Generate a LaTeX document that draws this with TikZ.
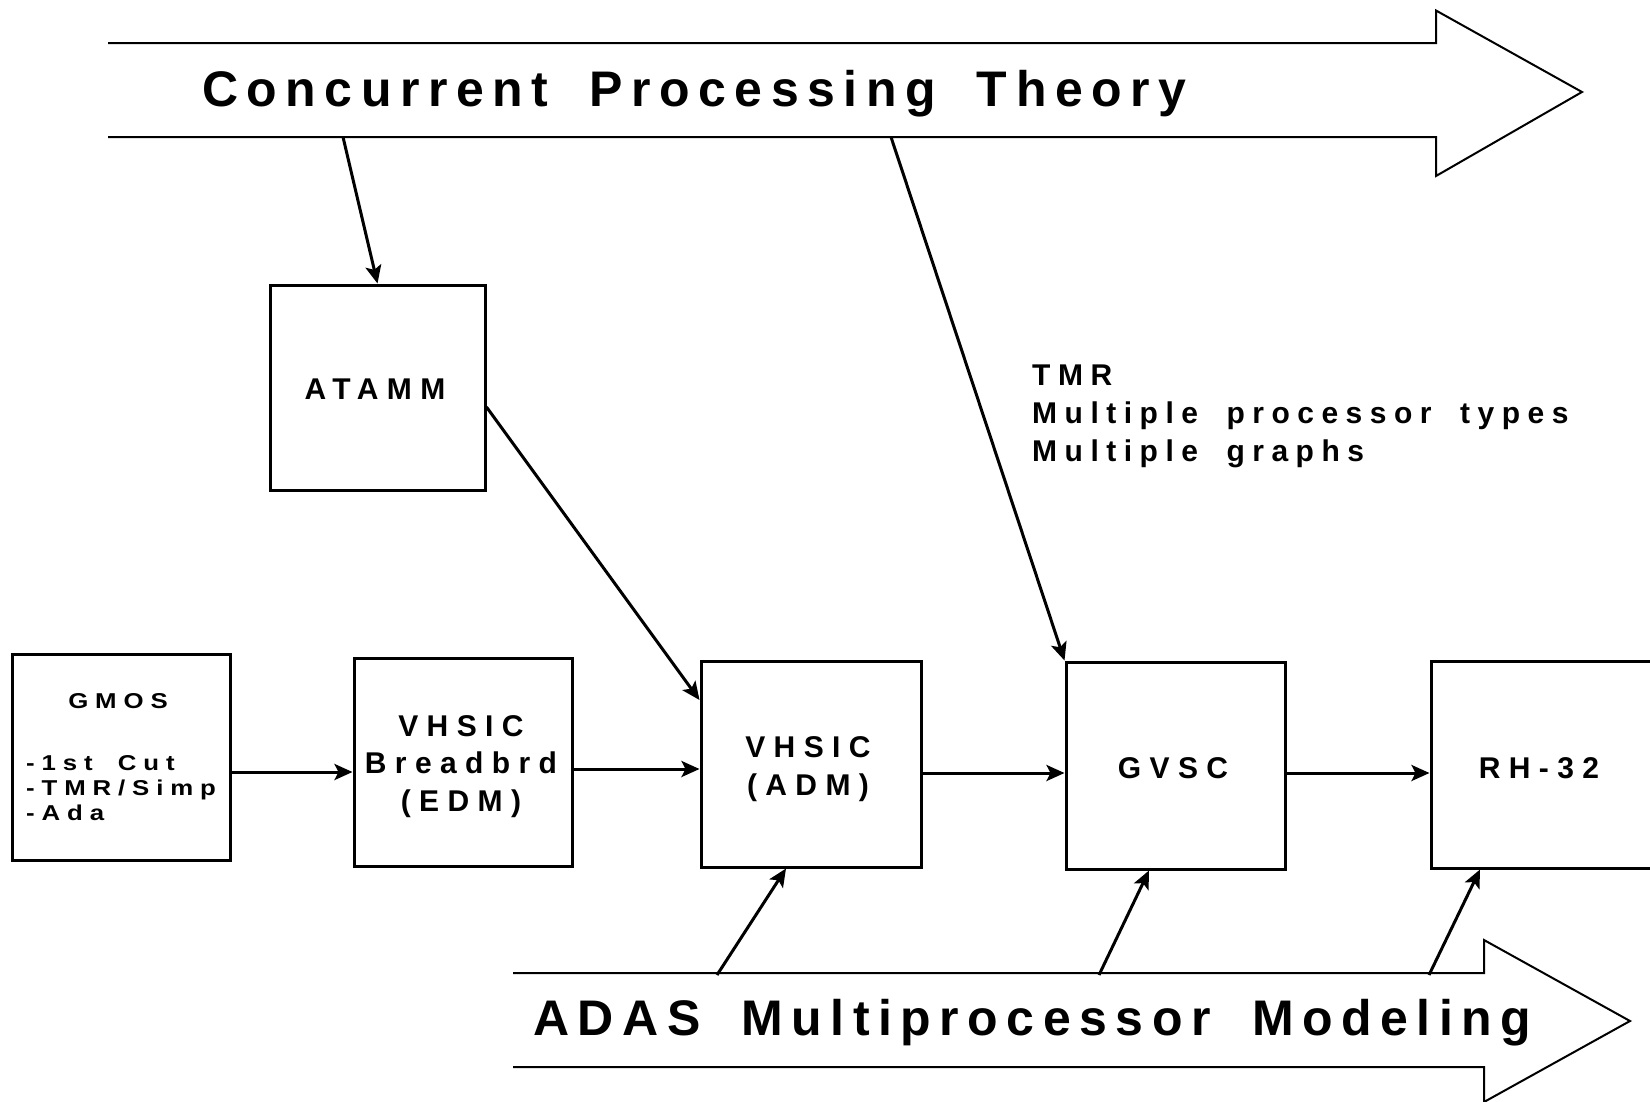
\documentclass[tikz,border=0pt]{standalone}
\usepackage{fontspec}
\setmainfont{Liberation Sans}
\newfontfamily\bannerfont{Liberation Sans}[LetterSpace=17,WordSpace=1.85]
\newfontfamily\boxfont{Liberation Sans}[LetterSpace=28]
\newfontfamily\notefont{Liberation Sans}[LetterSpace=25,WordSpace=1.8]
\newfontfamily\listfont{Liberation Sans}[LetterSpace=32,WordSpace=1.8,FakeStretch=1.2]
\usetikzlibrary{arrows.meta}

\tikzset{
  blockbox/.style={draw, line width=3pt, inner sep=0pt},
  conn/.style={line width=3pt, -{Stealth[length=18pt,width=16pt,inset=4pt]}},
  band/.style={line width=2pt, line join=miter},
  bannertext/.style={font=\bannerfont\bfseries\fontsize{50}{60}\selectfont, inner sep=0pt},
  boxtext/.style={font=\boxfont\bfseries\fontsize{30}{38}\selectfont, inner sep=0pt, anchor=base},
  notetext/.style={font=\notefont\bfseries\fontsize{30}{38}\selectfont, inner sep=0pt, anchor=base west},
  listtext/.style={font=\listfont\bfseries\fontsize{21.5}{25}\selectfont, inner sep=0pt},
}

\begin{document}
\begin{tikzpicture}[x=1pt,y=-1pt]
\useasboundingbox (0,0) rectangle (1650,1101);

% upper band arrow
\draw[band] (108,43) -- (1436,43) -- (1436,10.5) -- (1582,92) -- (1436,176)
  -- (1436,137) -- (108,137);
\node[bannertext, anchor=base west] (cpt) at (202,106) {Concurrent Processing Theory};
\coordinate (cpA) at (343,137);
\coordinate (cpB) at (891,137);

% lower band arrow
\draw[band] (513,973) -- (1484,973) -- (1484,940) -- (1630,1021) -- (1484,1102)
  -- (1484,1067) -- (513,1067);
\node[bannertext, anchor=base west] (adas) at (533,1035) {ADAS Multiprocessor Modeling};
\coordinate (adA) at (717,975);
\coordinate (adB) at (1099,975);
\coordinate (adC) at (1429,975);

% blocks
\node[blockbox, minimum width=215pt, minimum height=205pt] (atamm) at (377.5,387.5) {};
\node[blockbox, minimum width=218pt, minimum height=206pt] (gmos) at (121,757) {};
\node[blockbox, minimum width=218pt, minimum height=208pt] (bread) at (463,762) {};
\node[blockbox, minimum width=220pt, minimum height=206pt] (adm) at (811,764) {};
\node[blockbox, minimum width=219pt, minimum height=207pt] (gvsc) at (1175.5,765.5) {};
\node[blockbox, minimum width=221pt, minimum height=207pt] (rh) at (1541.5,764.5) {};

% block labels
\node[boxtext] (tatamm) at (375,399) {ATAMM};
\node[listtext, anchor=base] (tgmos) at (118,708) {GMOS};
\node[listtext, anchor=base west] (tg1) at (26,770) {-1st Cut};
\node[listtext, anchor=base west] (tg2) at (26,795) {-TMR/Simp};
\node[listtext, anchor=base west] (tg3) at (26,820) {-Ada};
\node[boxtext] (tb1) at (461,736) {VHSIC};
\node[boxtext] (tb2) at (461,773) {Breadbrd};
\node[boxtext] (tb3) at (461,811) {(EDM)};
\node[boxtext] (ta1) at (808,757) {VHSIC};
\node[boxtext] (ta2) at (808,795) {(ADM)};
\node[boxtext] (tgv) at (1173,778) {GVSC};
\node[boxtext] (trh) at (1539,778) {RH-32};

% side note
\node[notetext] (n1) at (1032,385) {TMR};
\node[notetext] (n2) at (1032,423) {Multiple processor types};
\node[notetext] (n3) at (1032,461) {Multiple graphs};

% connectors
\draw[conn] (cpA) -- (atamm.north);
\draw[conn] (atamm.east |- 0,407) -- (adm.west |- 0,700);
\draw[conn] (cpB) -- (gvsc.north west);
\draw[conn] (gmos.east |- 0,772) -- (bread.west |- 0,772);
\draw[conn] (bread.east |- 0,769) -- (adm.west |- 0,769);
\draw[conn] (adm.east |- 0,773) -- (gvsc.west |- 0,773);
\draw[conn] (gvsc.east |- 0,773) -- (rh.west |- 0,773);
\draw[conn] (adA) -- (adm.south -| 786,0);
\draw[conn] (adB) -- (gvsc.south -| 1149,0);
\draw[conn] (adC) -- (rh.south -| 1480,0);
\end{tikzpicture}
\end{document}
